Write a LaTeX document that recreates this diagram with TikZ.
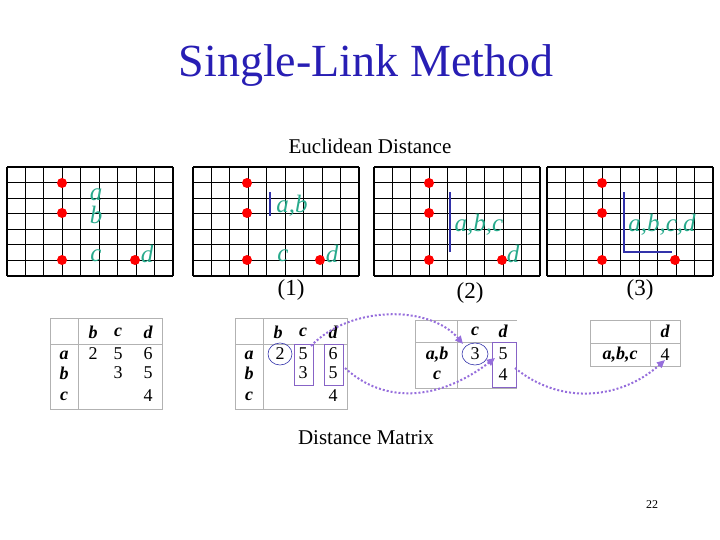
\documentclass[tikz,border=0pt]{standalone}
\usepackage{fontspec}
\setmainfont{Liberation Serif}
\usetikzlibrary{arrows.meta}
\definecolor{teal1}{RGB}{40,170,140}
\definecolor{ttl}{RGB}{40,30,180}
\definecolor{barb}{RGB}{50,50,170}
\definecolor{purp}{RGB}{150,110,220}
\tikzset{
  dot/.style={circle,fill=red,inner sep=0pt,minimum size=10pt},
  lbl/.style={text=teal1,font=\itshape\fontsize{25}{25}\selectfont,inner sep=0pt},
  cell/.style={font=\fontsize{18}{18}\selectfont,inner sep=0pt},
  hd/.style={font=\bfseries\itshape\fontsize{18}{18}\selectfont,inner sep=0pt},
  num/.style={font=\fontsize{23}{23}\selectfont},
  tline/.style={draw=gray!60,line width=0.8pt},
  bar/.style={draw=barb,line width=2.6pt},
  arr/.style={draw=purp,line width=2pt,dotted,-{Triangle[length=8pt,width=7pt]}},
  box/.style={draw=purp!90!black,line width=0.8pt}
}
\newcommand{\mygrid}[1]{%
  \foreach \i in {0,...,9}{\draw[line width=\ifodd\i 2.2pt\else 1.1pt\fi] (#1+\i*18.44,167)--(#1+\i*18.44,276);}
  \foreach \j in {0,...,7}{\draw[line width=1.2pt] (#1,167+\j*15.57)--(#1+166,167+\j*15.57);}
}
\begin{document}
\begin{tikzpicture}[x=1pt,y=-1pt]
\useasboundingbox (0,0) rectangle (720,540);
\node[text=ttl,font=\fontsize{46}{46}\selectfont] (title) at (366,66) {Single-Link Method};
\node[font=\fontsize{21}{21}\selectfont] (eu) at (370,146) {Euclidean Distance};
% grids
\mygrid{7}\mygrid{193}\mygrid{374}\mygrid{547}
% grid 1
\node[dot] (a1) at (62,183) {}; \node[dot] (b1) at (62,213) {}; \node[dot] (c1) at (62,260) {}; \node[dot] (d1) at (135,260) {};
\node[lbl] (la1) at (96,195) {a}; \node[lbl] (lb1) at (96,215) {b}; \node[lbl] (lc1) at (96,256) {c}; \node[lbl] (ld1) at (147,254) {d};
% grid 2
\node[dot] (a2) at (247,183) {}; \node[dot] (b2) at (247,213) {}; \node[dot] (c2) at (247,260) {}; \node[dot] (d2) at (320,260) {};
\coordinate (p2a) at (270,192); \coordinate (p2b) at (270,216); \draw[bar] (p2a)--(p2b);
\node[lbl] (lab2) at (292,206) {a,b}; \node[lbl] (lc2) at (283,256) {c}; \node[lbl] (ld2) at (332,254) {d};
\node[num] (n1) at (291,290) {(1)};
% grid 3
\node[dot] (a3) at (429,183) {}; \node[dot] (b3) at (429,213) {}; \node[dot] (c3) at (429,260) {}; \node[dot] (d3) at (502,260) {};
\coordinate (p3a) at (450,192); \coordinate (p3b) at (450,252); \draw[bar] (p3a)--(p3b);
\node[lbl] (labc3) at (479,225) {a,b,c}; \node[lbl] (ld3) at (513,254) {d};
\node[num] (n2) at (470,293) {(2)};
% grid 4
\node[dot] (a4) at (602,183) {}; \node[dot] (b4) at (602,213) {}; \node[dot] (c4) at (602,260) {}; \node[dot] (d4) at (675,260) {};
\coordinate (p4a) at (624,192); \coordinate (p4b) at (624,252); \coordinate (p4c) at (672,252);
\draw[bar] (p4a)--(p4b)--(p4c);
\node[lbl] (labcd4) at (662,225) {a,b,c,d};
\node[num] (n3) at (640,290) {(3)};
% table 1
\draw[tline] (50,318) rectangle (162,409); \draw[tline] (50,344)--(162,344); \draw[tline] (78,318)--(78,409);
\node[hd] (t1b) at (93,332) {b}; \node[hd] (t1c) at (118,332) {c}; \node[hd] (t1d) at (148,332) {d};
\node[hd] (t1ra) at (64,355) {a}; \node[hd] (t1rb) at (64,373) {b}; \node[hd] (t1rc) at (64,396) {c};
\node[cell] (t1ab) at (93,354) {2}; \node[cell] (t1ac) at (118,354) {5}; \node[cell] (t1ad) at (148,354) {6};
\node[cell] (t1bc) at (118,373) {3}; \node[cell] (t1bd) at (148,373) {5}; \node[cell] (t1cd) at (148,396) {4};
% table 2
\draw[tline] (235,318) rectangle (347,409); \draw[tline] (235,344)--(347,344); \draw[tline] (263,318)--(263,409);
\node[hd] (t2b) at (278,332) {b}; \node[hd] (t2c) at (303,332) {c}; \node[hd] (t2d) at (333,332) {d};
\node[hd] (t2ra) at (249,355) {a}; \node[hd] (t2rb) at (249,373) {b}; \node[hd] (t2rc) at (249,396) {c};
\node[cell] (t2ab) at (280,354) {2}; \node[cell] (t2ac) at (303,354) {5}; \node[cell] (t2ad) at (333,354) {6};
\node[cell] (t2bc) at (303,373) {3}; \node[cell] (t2bd) at (333,373) {5}; \node[cell] (t2cd) at (333,396) {4};
\draw[draw=barb,line width=0.6pt] (t2ab) ellipse (12pt and 11pt);
\draw[box] (294,344) rectangle (313,385); \draw[box] (324,344) rectangle (343,385);
% table 3
\draw[tline] (415,320)--(517,320); \draw[tline] (415,342)--(517,342); \draw[tline] (415,388)--(517,388);
\draw[tline] (415,320)--(415,388); \draw[tline] (457,320)--(457,388);
\node[hd] (t3c) at (475,331) {c}; \node[hd] (t3d) at (503,331) {d};
\node[hd] (t3rab) at (437,355) {a,b}; \node[hd] (t3rc) at (437,375) {c};
\node[cell] (t3abc) at (475,354) {3}; \node[cell] (t3abd) at (503,354) {5}; \node[cell] (t3cd) at (503,375) {4};
\draw[draw=barb,line width=0.6pt] (t3abc) ellipse (13pt and 11pt);
\draw[box] (492,342) rectangle (516,387);
% table 4
\draw[tline] (590,320) rectangle (680,366); \draw[tline] (590,343)--(680,343); \draw[tline] (650,320)--(650,366);
\node[hd] (t4d) at (665,331) {d}; \node[hd] (t4r) at (620,355) {a,b,c}; \node[cell] (t4v) at (665,355) {4};
% arrows
\coordinate (s1) at (311,346); \coordinate (e1) at (463,344);
\draw[arr] (s1) .. controls (350,305) and (430,305) .. (e1);
\coordinate (s2) at (345,368); \coordinate (e2) at (495,358);
\draw[arr] (s2) .. controls (385,405) and (440,400) .. (e2);
\coordinate (s3) at (515,368); \coordinate (e3) at (665,360);
\draw[arr] (s3) .. controls (560,405) and (620,400) .. (e3);
\node[font=\fontsize{21}{21}\selectfont] (dm) at (366,438) {Distance Matrix};
\node[font=\fontsize{12}{12}\selectfont] (pg) at (652,505) {22};
\end{tikzpicture}
\end{document}
